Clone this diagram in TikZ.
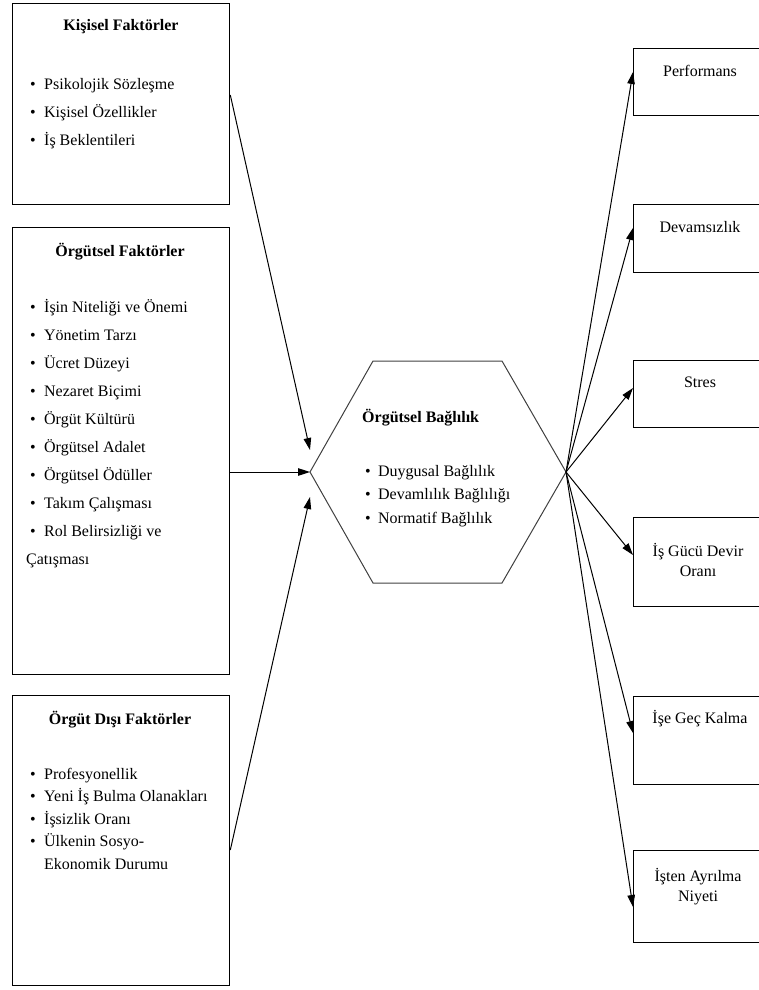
\documentclass[tikz,border=0pt]{standalone}
\usepackage{fontspec}
\setmainfont{Liberation Serif}
\usetikzlibrary{arrows.meta, positioning, calc}
\newcommand{\blt}{\makebox[14pt][l]{\textbullet}}

\begin{document}
\begin{tikzpicture}[x=1pt, y=-1pt,
    box/.style={draw, line width=1.3pt, minimum width=217pt, inner sep=0pt, anchor=north west},
    rbox/.style={draw, line width=1.3pt, minimum width=134pt, inner sep=0pt, anchor=north west},
    txt/.style={font=\fontsize{16}{18}\selectfont, inner sep=0pt, anchor=base west},
    head/.style={txt, font=\bfseries\fontsize{16}{18}\selectfont},
    rtxt/.style={txt, anchor=base},
    arr/.style={-{Triangle[length=12pt,width=7.5pt]}, line width=1pt}]
  \clip (0,0) rectangle (759,990);

  \node[box, minimum height=201pt] (kisisel) at (12,3) {};
  \node[head, anchor=base] (kisiselT) at (121,31) {Kişisel Faktörler};
  \foreach \t [count=\i from 0] in {Psikolojik Sözleşme, Kişisel Özellikler, İş Beklentileri}
    \node[txt] (k\i) at (30,89+28*\i) {\blt\t};

  \node[box, minimum height=447pt] (orgutsel) at (12,227) {};
  \node[head, anchor=base] (orgutselT) at (120,256) {Örgütsel Faktörler};
  \foreach \t [count=\i from 0] in {İşin Niteliği ve Önemi, Yönetim Tarzı, Ücret Düzeyi,
      Nezaret Biçimi, Örgüt Kültürü, Örgütsel Adalet, Örgütsel Ödüller, Takım Çalışması,
      Rol Belirsizliği ve}
    \node[txt] (o\i) at (30,312+28*\i) {\blt\t};
  \node[txt] (o9) at (26,564) {Çatışması};

  \node[box, minimum height=290pt] (disi) at (12,695) {};
  \node[head, anchor=base] (disiT) at (120,724) {Örgüt Dışı Faktörler};
  \foreach \t [count=\i from 0] in {Profesyonellik, Yeni İş Bulma Olanakları, İşsizlik Oranı, Ülkenin Sosyo-}
    \node[txt] (d\i) at (30,779+22.5*\i) {\blt\t};
  \node[txt] (d4) at (44,869) {Ekonomik Durumu};

  \draw[line width=1pt, black!75] (310,472) coordinate (hexW) -- (373,361) -- (502,361)
    -- (566,472) coordinate (hexE) -- (502,583) -- (373,583) -- cycle;
  \node[head] (bagT) at (362,422) {Örgütsel Bağlılık};
  \foreach \t [count=\i from 0] in {Duygusal Bağlılık, Devamlılık Bağlılığı, Normatif Bağlılık}
    \node[txt] (b\i) at (365,476+23.5*\i) {\makebox[13pt][l]{\textbullet}\t};

  \node[rbox, minimum height=67pt] (perf) at (633,48) {};
  \node[rtxt] (perfT) at (700,76) {Performans};
  \node[rbox, minimum height=68pt] (devam) at (633,204) {};
  \node[rtxt] (devamT) at (700,232) {Devamsızlık};
  \node[rbox, minimum height=67pt] (stres) at (633,360) {};
  \node[rtxt] (stresT) at (700,387) {Stres};
  \node[rbox, minimum height=89pt] (gucu) at (633,517) {};
  \node[rtxt] (gucuA) at (698,556) {İş Gücü Devir};
  \node[rtxt] (gucuB) at (698,576) {Oranı};
  \node[rbox, minimum height=88pt] (gec) at (633,696) {};
  \node[rtxt] (gecT) at (700,723) {İşe Geç Kalma};
  \node[rbox, minimum height=92pt] (ayril) at (633,850) {};
  \node[rtxt] (ayrilA) at (698,881) {İşten Ayrılma};
  \node[rtxt] (ayrilB) at (698,901) {Niyeti};

  \draw[arr] ([yshift=-92pt]kisisel.north east) -- ([yshift=22pt]hexW);
  \draw[arr] ([yshift=-245pt]orgutsel.north east) -- (hexW);
  \draw[arr] ([yshift=-155pt]disi.north east) -- ([yshift=-25pt]hexW);

  \draw[arr] (hexE) -- ([yshift=-24pt]perf.north west);
  \draw[arr] (hexE) -- ([yshift=-24pt]devam.north west);
  \draw[arr] (hexE) -- ([yshift=-28pt]stres.north west);
  \draw[arr] (hexE) -- ([yshift=-38pt]gucu.north west);
  \draw[arr] (hexE) -- ([yshift=-37pt]gec.north west);
  \draw[arr] (hexE) -- ([yshift=-57pt]ayril.north west);
\end{tikzpicture}
\end{document}
